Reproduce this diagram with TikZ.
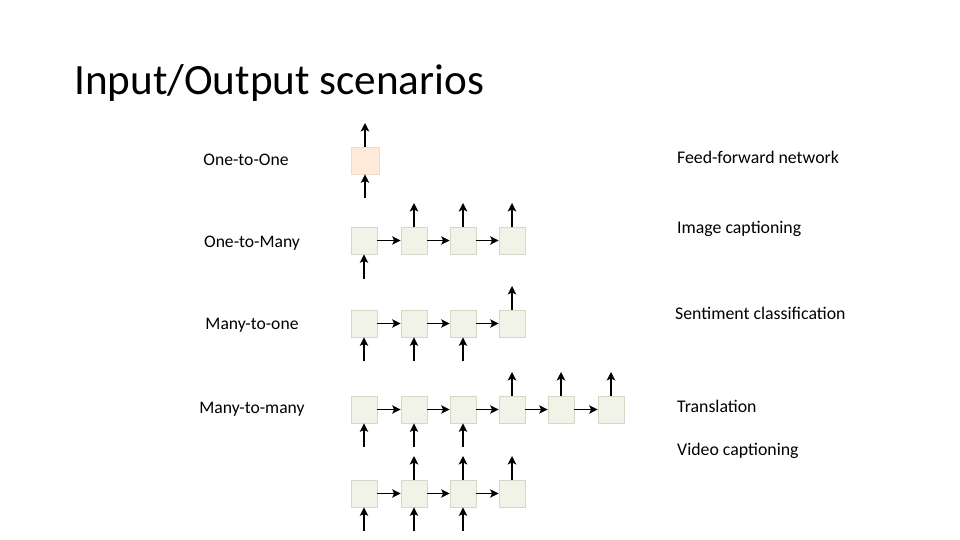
\documentclass[tikz,border=0pt]{standalone}
\usepackage{fontspec}
\setmainfont{Carlito}
\usetikzlibrary{arrows.meta}
\definecolor{cellfill}{HTML}{F1F3E8}
\definecolor{celldraw}{HTML}{D3D9C2}
\definecolor{peachfill}{HTML}{FDEADA}
\definecolor{peachdraw}{HTML}{F5D9C3}
\tikzset{
  cell/.style={draw=celldraw, fill=cellfill, line width=0.8pt, minimum width=26pt, minimum height=27pt, inner sep=0pt},
  peach/.style={cell, draw=peachdraw, fill=peachfill},
  conn/.style={-{Stealth[length=8.5pt,width=8.5pt,inset=2pt]}, line width=1.3pt, black},
  lbl/.style={font=\fontsize{17.6}{20}\selectfont, inner sep=0pt, anchor=base},
  rlbl/.style={font=\fontsize{17.8}{20}\selectfont, inner sep=0pt, anchor=base west},
}
\begin{document}
\begin{tikzpicture}[x=1pt,y=-1pt]
\useasboundingbox (0,0) rectangle (960,540);
\node[font=\fontsize{43.2}{50}\selectfont, anchor=base west, inner sep=0pt] (title) at (74,95) {Input/Output scenarios};

% labels
\node[lbl] (l1) at (246,165) {One-to-One};
\node[lbl] (l2) at (252,247) {One-to-Many};
\node[lbl] (l3) at (252,329) {Many-to-one};
\node[lbl] (l4) at (252,413) {Many-to-many};
\node[rlbl] (r1) at (677,164) {Feed-forward network};
\node[rlbl] (r2) at (677,233) {Image captioning};
\node[rlbl] (r3) at (675,319) {Sentiment classification};
\node[rlbl] (r4) at (677,412) {Translation};
\node[rlbl] (r5) at (677,455) {Video captioning};

% row 1
\node[peach, minimum width=28pt, minimum height=27pt] (a1) at (365,160.5) {};
\coordinate (a1o) at (365,123);
\coordinate (a1i) at (365,198);
\draw[conn] (a1) -- (a1o);
\draw[conn] (a1i) -- (a1);

% row 2
\foreach \i/\x in {1/364,2/414,3/463,4/512}{
  \node[cell] (b\i) at (\x,240.5) {};
}
\draw[conn] (b1) -- (b2);
\draw[conn] (b2) -- (b3);
\draw[conn] (b3) -- (b4);
\foreach \i/\x in {2/414,3/463,4/512}{
  \coordinate (b\i o) at (\x,203);
  \draw[conn] (b\i) -- (b\i o);
}
\coordinate (b1i) at (364,279);
\draw[conn] (b1i) -- (b1);

% row 3
\foreach \i/\x in {1/364,2/414,3/463,4/512}{
  \node[cell] (c\i) at (\x,323.5) {};
}
\draw[conn] (c1) -- (c2);
\draw[conn] (c2) -- (c3);
\draw[conn] (c3) -- (c4);
\coordinate (c4o) at (512,286);
\draw[conn] (c4) -- (c4o);
\foreach \i/\x in {1/364,2/414,3/463}{
  \coordinate (c\i i) at (\x,361);
  \draw[conn] (c\i i) -- (c\i);
}

% row 4
\foreach \i/\x in {1/364,2/414,3/463,4/512,5/561,6/611}{
  \node[cell] (d\i) at (\x,409.5) {};
}
\draw[conn] (d1) -- (d2);
\draw[conn] (d2) -- (d3);
\draw[conn] (d3) -- (d4);
\draw[conn] (d4) -- (d5);
\draw[conn] (d5) -- (d6);
\foreach \i/\x in {4/512,5/561,6/611}{
  \coordinate (d\i o) at (\x,372);
  \draw[conn] (d\i) -- (d\i o);
}
\foreach \i/\x in {1/364,2/414,3/463}{
  \coordinate (d\i i) at (\x,447);
  \draw[conn] (d\i i) -- (d\i);
}

% row 5
\foreach \i/\x in {1/364,2/414,3/463,4/512}{
  \node[cell] (e\i) at (\x,493.5) {};
}
\draw[conn] (e1) -- (e2);
\draw[conn] (e2) -- (e3);
\draw[conn] (e3) -- (e4);
\foreach \i/\x in {2/414,3/463,4/512}{
  \coordinate (e\i o) at (\x,456);
  \draw[conn] (e\i) -- (e\i o);
}
\foreach \i/\x in {1/364,2/414,3/463}{
  \coordinate (e\i i) at (\x,531);
  \draw[conn] (e\i i) -- (e\i);
}
\end{tikzpicture}
\end{document}
